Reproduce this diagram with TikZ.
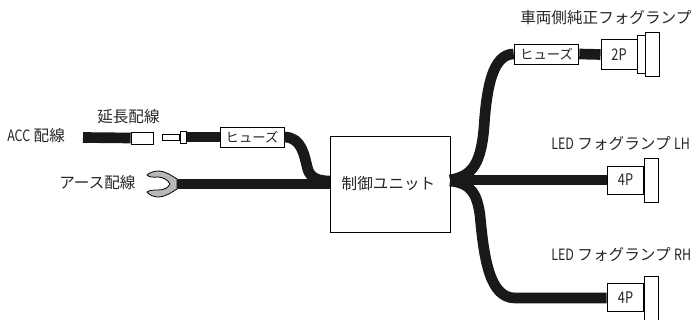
\documentclass[tikz,border=0pt]{standalone}
\usepackage{fontspec}
\setmainfont{Noto Sans CJK JP}
\newcommand{\narrowtxt}[1]{\scalebox{0.8}[1]{#1}}
\begin{document}
\begin{tikzpicture}[x=0.75pt,y=-0.75pt,
  lbl/.style={font=\fontsize{11.7}{11.7}\selectfont,inner sep=0pt,anchor=base west,text=black!85},
  wire/.style={draw=black!90,line width=8pt},
  box/.style={draw=black,fill=white,line width=0.7pt,rectangle,inner sep=0pt},
  fusebox/.style={box,minimum height=15pt,font=\fontsize{10}{10}\selectfont,text=black!85},
  plug/.style={box,font=\fontsize{12}{12}\selectfont,text=black!85}]
\useasboundingbox (0,0) rectangle (697,320);
% nodes
\node[box,minimum width=90pt,minimum height=72pt] (unit) at (390,184.5) {};
\node[font=\fontsize{11.7}{11.7}\selectfont,inner sep=0pt,text=black!85] (unittxt) at (388.5,184) {制御ユニット};
\coordinate (acc) at (83,137.5);
\node[box,minimum width=17pt,minimum height=9pt] (sock) at (142.5,138) {};
\node[box,minimum width=13pt,minimum height=5pt] (pin) at (171,137.5) {};
\node[box,minimum width=5pt,minimum height=9pt] (collar) at (183.5,137) {};
\node[fusebox,minimum width=48pt] (fuseL) at (252,137) {ヒューズ};
\coordinate (fork) at (177,184);
\node[fusebox,minimum width=48.5pt] (fuseU) at (546.5,54) {ヒューズ};
\node[plug,minimum width=27pt,minimum height=22.5pt] (p2) at (619,54.5) {\narrowtxt{2P}};
\node[box,minimum width=6pt,minimum height=29pt] (f2a) at (641,54.5) {};
\node[box,minimum width=10.5pt,minimum height=33pt] (f2b) at (652,54) {};
\node[plug,minimum width=27.5pt,minimum height=21pt] (p4a) at (625.5,180) {\narrowtxt{4P}};
\node[box,minimum width=10.5pt,minimum height=33pt] (f4a) at (651,180) {};
\node[plug,minimum width=27.5pt,minimum height=21pt] (p4b) at (625.5,297.5) {\narrowtxt{4P}};
\node[box,minimum width=10.5pt,minimum height=33pt] (f4b) at (651,298) {};
% wires
\draw[wire] (acc) -- (sock.west);
\draw[wire] (collar.east) -- (fuseL.west);
\draw[wire] (fuseL.east) .. controls (302,137.5) and (304,155) .. (308,170) .. controls (311,178) and (318,181) .. (330,181);
\draw[wire] (fork) -- (unit.west |- fork);
\draw[wire] (450,180) -- (p4a.west);
\draw[wire] (fuseU.west) .. controls (492,54) and (487,90) .. (484.5,120) .. controls (482,165) and (472,176) .. (450,180);
\draw[wire] (450,181) .. controls (472,183) and (477,195) .. (480,215) .. controls (484,260) and (490,298) .. (515,298) -- (p4b.west |- 0,298);
\draw[wire] (fuseU.east) -- (p2.west);
% fork terminal
\path[draw=black,fill=black!28,line width=0.6pt] (177,179) .. controls (172,176) and (166,171) .. (158,171) .. controls (154,171) and (149,173) .. (147,175) .. controls (149,177) and (152,177.5) .. (158,177) .. controls (164,177.5) and (168,180) .. (170,184) .. controls (168,188) and (164,190) .. (158,190) .. controls (152,190) and (149,190.5) .. (147,192) .. controls (149,195) and (154,197) .. (158,197) .. controls (166,197) and (172,192) .. (177,189) -- cycle;
% labels
\node[lbl] (t1) at (7,141.5) {\narrowtxt{ACC} 配線};
\node[lbl] (t2) at (97,122.5) {延長配線};
\node[lbl] (t3) at (59,189) {アース配線};
\node[lbl] (t4) at (520,24) {車両側純正フォグランプ};
\node[lbl] (t5) at (551,149.5) {\narrowtxt{LED} フォグランプ \narrowtxt{LH}};
\node[lbl] (t6) at (551,261) {\narrowtxt{LED} フォグランプ \narrowtxt{RH}};
\end{tikzpicture}
\end{document}
